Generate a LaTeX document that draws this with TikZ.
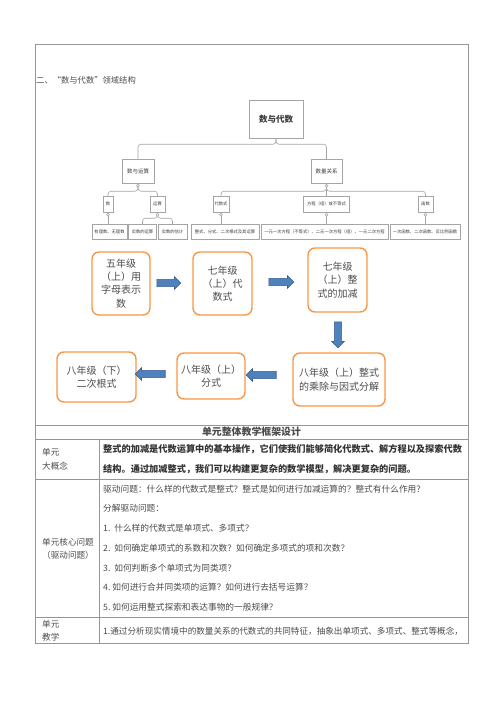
\documentclass[tikz,border=0pt]{standalone}
\usepackage{fontspec}
\setmainfont{Noto Sans CJK SC}
\usetikzlibrary{shapes.arrows}

\definecolor{boxorange}{RGB}{247,150,70}
\definecolor{arrowblue}{RGB}{79,129,189}
\definecolor{arrowdark}{RGB}{56,93,138}
\definecolor{treeline}{RGB}{165,165,165}
\definecolor{treetext}{RGB}{60,60,60}
\definecolor{textgray}{RGB}{75,75,75}
\definecolor{tabline}{RGB}{150,150,150}

\newcommand{\fsz}[2]{\fontsize{#1}{#2}\selectfont}

\tikzset{
  tbox/.style={draw=treeline, fill=white, text=treetext, inner sep=0pt, font=\fsz{4.3}{5}},
  tline/.style={draw=treeline, line width=0.6pt, rounded corners=3pt},
  gbox/.style={draw=boxorange, line width=1.4pt, rounded corners=7pt, align=center,
    text=textgray, inner sep=0pt, font=\fsz{10}{13.3}},
  barrow/.style={single arrow, draw=arrowdark, fill=arrowblue, line width=0.6pt,
    minimum width=12.5pt, single arrow head extend=2.7pt, inner sep=3.3pt},
  tabtext/.style={anchor=west, align=left, inner sep=0pt, text=textgray}
}

\begin{document}
\begin{tikzpicture}[x=1pt,y=-1pt]
\useasboundingbox (0,0) rectangle (500,707);

% Title
\node[tabtext, font=\fsz{8.3}{10}] (title) at (36,80) {二、“数与代数”领域结构};

% Tree of the field
\node[tbox, minimum width=54pt, minimum height=38pt, font=\fsz{8.5}{10}\bfseries] (root) at (276,119) {数与代数};
\node[tbox, minimum width=32pt, minimum height=24pt, font=\fsz{5.5}{6}] (ys) at (138,171) {数与运算};
\node[tbox, minimum width=31pt, minimum height=24pt, font=\fsz{5.5}{6}] (gx) at (326.5,171) {数量关系};

\node[tbox, minimum width=10pt, minimum height=16pt] (shu) at (108,204) {数};
\node[tbox, minimum width=15pt, minimum height=16pt] (ysu) at (157.5,204) {运算};
\node[tbox, minimum width=16pt, minimum height=16pt] (dss) at (221,204) {代数式};
\node[tbox, minimum width=46pt, minimum height=16pt] (fc) at (326.5,204) {方程（组）或不等式};
\node[tbox, minimum width=15pt, minimum height=16pt] (hs) at (425.5,204) {函数};

\node[tbox, minimum width=35pt, minimum height=15pt] (l1) at (109.5,231.5) {有理数、无理数};
\node[tbox, minimum width=28pt, minimum height=15pt] (l2) at (142.5,231.5) {实数的运算};
\node[tbox, minimum width=29pt, minimum height=15pt] (l3) at (172.5,231.5) {实数的估计};
\node[tbox, minimum width=68pt, minimum height=15pt] (l4) at (225,231.5) {整式、分式、二次根式及其运算};
\node[tbox, minimum width=127pt, minimum height=15pt] (l5) at (324.5,231.5) {一元一次方程（不等式）、二元一次方程（组）、一元二次方程};
\node[tbox, minimum width=70pt, minimum height=15pt] (l6) at (425,231.5) {一次函数、二次函数、反比例函数};

% Tree connectors
\draw[tline] (root.south) -- ++(0,6) -| (ys.north);
\draw[tline] (root.south) -- ++(0,6) -| (gx.north);
\foreach \c in {shu,ysu} \draw[tline] (ys.south) -- ++(0,8) -| (\c.north);
\foreach \c in {dss,fc,hs} \draw[tline] (gx.south) -- ++(0,8) -| (\c.north);
\foreach \c in {l2,l3} \draw[tline] (ysu.south) -- ++(0,6) -| (\c.north);
\draw[tline] (shu.south) -- (shu.south |- l1.north);
\draw[tline] (dss.south) -- (dss.south |- l4.north);
\draw[tline] (fc.south) -- (fc.south |- l5.north);
\draw[tline] (hs.south) -- (hs.south |- l6.north);
\foreach \c in {ys,gx,shu,ysu,dss,fc,hs}
  \draw[draw=treeline, line width=0.5pt, fill=white] ([yshift=-2.5pt]\c.south) circle (1.5pt);

% Learning path
\node[gbox, minimum width=58pt, minimum height=63pt] (bA) at (121,283.5) {五年级\\（上）用\\字母表示\\数};
\node[gbox, minimum width=59pt, minimum height=63pt] (bB) at (222.5,283.5) {七年级\\（上）代\\数式};
\node[gbox, minimum width=59pt, minimum height=64pt] (bC) at (337.5,280) {七年级\\（上）整\\式的加减};
\node[gbox, minimum width=92pt, minimum height=53pt] (bD) at (339,379.5) {八年级（上）整式\\的乘除与因式分解};
\node[gbox, minimum width=68pt, minimum height=46pt] (bE) at (211,376) {八年级（上）\\分式};
\node[gbox, minimum width=79pt, minimum height=50pt] (bF) at (96.5,377) {八年级（下）\\二次根式};

\node[barrow, minimum height=24pt] (a1) at (167,283) {};
\node[barrow, minimum height=25pt] (a2) at (279.5,282) {};
\node[barrow, minimum height=26pt, shape border rotate=270] (a3) at (338,333) {};
\node[barrow, minimum height=30pt, shape border rotate=180] (a4) at (263,375) {};
\node[barrow, minimum height=30pt, shape border rotate=180] (a5) at (152,374) {};

% Table
\draw[line width=0.8pt, draw=tabline] (35,643) -- (35,44) -- (468,44) -- (468,643) -- cycle;
\foreach \y in {425,439,479,617} \draw[line width=0.8pt, draw=tabline] (35,\y) -- (468,\y);
\draw[line width=0.8pt, draw=tabline] (99,439) -- (99,643);

\node[inner sep=0pt, text=textgray, font=\fsz{9.9}{12}\bfseries] (head) at (251.5,432) {单元整体教学框架设计};

\node[tabtext, font=\fsz{8.6}{14}] (c1) at (42,459) {单元\\大概念};
\node[tabtext, font=\fsz{9.2}{20}\bfseries, text=black!80] (t1) at (103,459)
  {整式的加减是代数运算中的基本操作，它们使我们能够简化代数式、解方程以及探索代数\\
   结构。通过加减整式，我们可以构建更复杂的数学模型，解决更复杂的问题。};

\node[tabtext, font=\fsz{8.6}{13}] (c2) at (42,548.5) {单元核心问题\\（驱动问题）};
\node[tabtext, font=\fsz{8.7}{19.7}] (t2) at (103,548)
  {驱动问题：什么样的代数式是整式？整式是如何进行加减运算的？整式有什么作用？\\
   分解驱动问题：\\
   1.~~什么样的代数式是单项式、多项式？\\
   2.~~如何确定单项式的系数和次数？如何确定多项式的项和次数？\\
   3.~~如何判断多个单项式为同类项？\\
   4.~如何进行合并同类项的运算？如何进行去括号运算？\\
   5.~如何运用整式探索和表达事物的一般规律？};

\node[tabtext, font=\fsz{8.6}{13}] (c3) at (42,630.5) {单元\\教学};
\node[tabtext, font=\fsz{8.6}{10}] (t3) at (103,631)
  {1.通过分析现实情境中的数量关系的代数式的共同特征，抽象出单项式、多项式、整式等概念，};
\end{tikzpicture}
\end{document}
